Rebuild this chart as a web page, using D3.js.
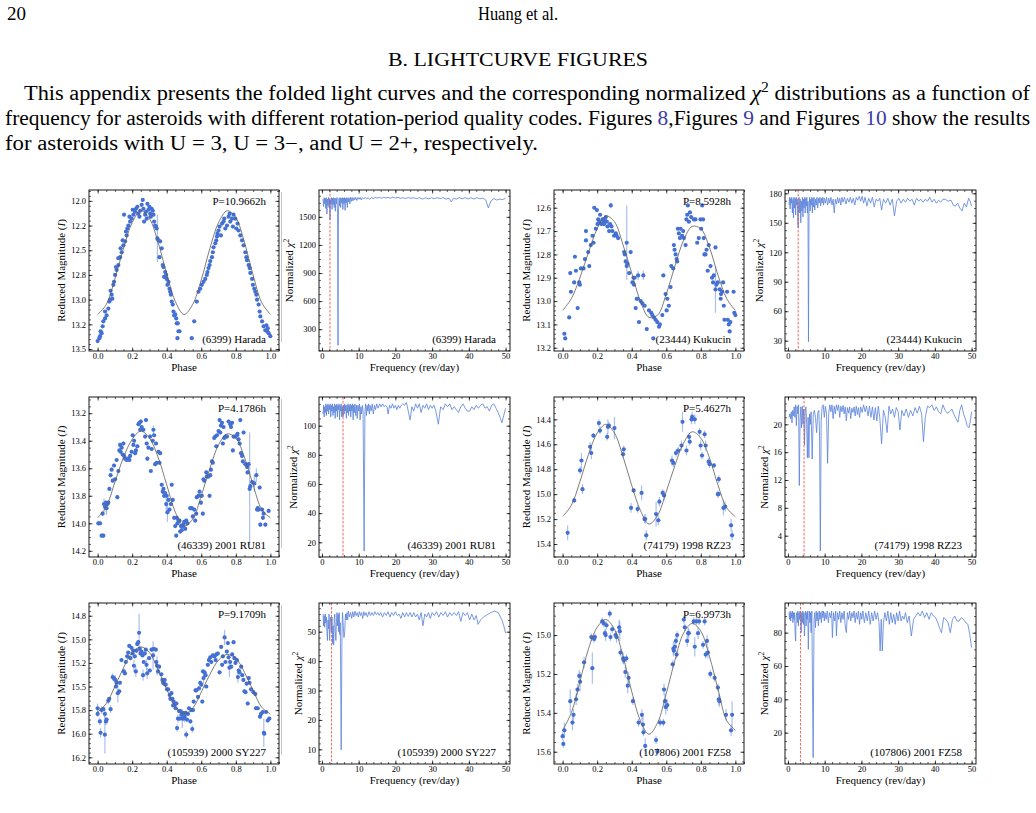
<!DOCTYPE html>
<html>
<head>
<meta charset="utf-8">
<script src="https://cdn.jsdelivr.net/npm/d3@7"></script>
<style>
body { margin: 0; background: #fff; }
text { font-family: "Liberation Serif", "DejaVu Serif", serif; }
</style>
</head>
<body>
<div id="chart"></div>
<script>
// ---- shared axes ----
const phaseTicks = [0, 0.2, 0.4, 0.6, 0.8, 1.0];
const freqTicks = [0, 10, 20, 30, 40, 50];
const fitPhase = [0, 0.05, 0.1, 0.15, 0.2, 0.25, 0.3, 0.35, 0.4, 0.45, 0.5, 0.55, 0.6, 0.65, 0.7, 0.75, 0.8, 0.85, 0.9, 0.95, 1.0];

// ---- (6399) Harada ----
const haradaYTicks = [[12.0,"12.0"],[12.25,"12.2"],[12.5,"12.5"],[12.75,"12.8"],[13.0,"13.0"],[13.25,"13.2"],[13.5,"13.5"]];
const haradaFit = [13.15,13.05,12.79,12.48,12.22,12.10,12.18,12.42,12.74,13.02,13.15,13.05,12.80,12.48,12.22,12.10,12.17,12.42,12.75,13.03,13.15];
const haradaPts = [
[0.000,13.42],[0.010,13.39],[0.014,13.37],[0.023,13.34],[0.017,13.32],[0.033,13.22],[0.043,13.19],[0.029,13.27],[0.052,13.16],[0.062,13.09],[0.043,13.12],[0.072,13.00],[0.068,13.02],[0.081,12.95],[0.091,12.85],[0.075,12.91],[0.095,12.82],[0.085,12.99],[0.101,12.75],[0.110,12.70],[0.120,12.65],[0.106,12.67],[0.130,12.57],[0.139,12.52],[0.133,12.48],[0.120,12.58],[0.149,12.45],[0.159,12.41],[0.145,12.40],[0.168,12.35],[0.164,12.31],[0.172,12.28],[0.178,12.25],[0.153,12.14],[0.188,12.21],[0.197,12.18],[0.184,12.16],[0.207,12.14],[0.217,12.11],[0.203,12.09],[0.222,12.08],[0.230,12.06],[0.236,12.13],[0.246,12.10],[0.255,12.04],[0.242,12.16],[0.261,11.99],[0.265,12.08],[0.275,12.14],[0.269,12.21],[0.280,12.11],[0.284,12.18],[0.294,12.09],[0.288,12.03],[0.300,12.06],[0.304,12.13],[0.308,12.16],[0.313,12.08],[0.319,12.10],[0.323,12.14],[0.327,12.21],[0.333,12.25],[0.338,12.26],[0.342,12.28],[0.346,12.38,0.24],[0.352,12.40],[0.362,12.41],[0.371,12.48],[0.358,12.57],[0.377,12.65],[0.381,12.67],[0.391,12.72],[0.397,12.75],[0.400,12.79],[0.385,12.77],[0.410,12.82],[0.404,12.85],[0.416,12.89],[0.424,12.95],[0.420,12.92],[0.429,13.02],[0.435,13.05],[0.439,13.12],[0.443,13.16],[0.449,13.15],[0.455,13.19],[0.458,13.24],[0.468,13.32],[0.464,13.24],[0.474,13.32],[0.462,13.39],[0.559,13.22],[0.545,13.39],[0.574,13.02],[0.584,12.92],[0.594,12.89],[0.603,12.85],[0.613,12.82],[0.623,12.79],[0.632,12.75],[0.636,12.72],[0.642,12.68],[0.648,12.65],[0.652,12.61],[0.662,12.57],[0.667,12.52],[0.671,12.47],[0.681,12.43],[0.687,12.40],[0.691,12.36],[0.694,12.33],[0.700,12.30],[0.706,12.26],[0.714,12.35],[0.720,12.23],[0.729,12.21],[0.733,12.18],[0.739,12.28],[0.749,12.25],[0.758,12.16],[0.764,12.13],[0.768,12.21],[0.778,12.18],[0.783,12.26],[0.787,12.14],[0.797,12.18],[0.803,12.28],[0.810,12.23],[0.816,12.30],[0.826,12.35],[0.836,12.40],[0.845,12.45],[0.855,12.52],[0.861,12.57],[0.865,12.60],[0.874,12.65],[0.880,12.68],[0.884,12.73],[0.894,12.79],[0.899,12.85],[0.907,12.89],[0.913,12.92],[0.919,12.95],[0.923,13.00],[0.932,13.05],[0.938,13.12],[0.942,13.17],[0.952,13.22],[0.961,13.27],[0.971,13.31],[0.981,13.32],[0.990,13.34],[1.000,13.37],[0.985,13.29],[0.977,13.26]
];
const haradaChiTicks = [[300,"300"],[600,"600"],[900,"900"],[1200,"1200"],[1500,"1500"]];
const haradaChi2 = [
[0.3,1690],[0.45,1610],[0.6,1705],[0.75,1640],[0.9,1700],[1.05,1590],[1.2,1705],[1.35,1530],[1.5,1690],[1.65,1620],[1.8,1708],[1.95,1600],[2.1,1690],[2.19,1470],[2.3,1680],[2.45,1640],[2.6,1706],[2.75,1580],[2.9,1700],[3.05,1630],[3.2,1705],[3.35,1600],[3.5,1700],[3.65,1560],[3.8,1700],[3.95,1640],[4.1,1706],[4.25,1540],[4.38,128],[4.5,1560],[4.65,1700],[4.8,1620],[4.95,1706],[5.1,1600],[5.25,1700],[5.4,1650],[5.55,1706],[5.7,1580],[5.85,1700],[6.0,1640],[6.15,1706],[6.3,1570],[6.45,1700],[6.6,1650],[6.75,1706],[6.9,1600],[7.05,1702],[7.2,1660],[7.4,1706],[7.6,1640],[7.8,1706],[8.0,1665],[8.2,1708],[8.45,1670],[8.7,1706],[8.95,1680],[9.2,1708],[9.5,1675],[9.8,1708],[10.1,1688],[10.4,1708],[10.7,1680],[11.0,1706],[11.4,1690],[11.8,1708],[12.2,1692],[12.6,1706],[13.0,1686],[13.5,1706],[14.0,1695],[14.5,1708],[15.0,1700],[15.6,1708],[16.2,1700],[16.8,1708],[17.4,1702],[18.0,1708],[18.6,1700],[19.3,1710],[20.0,1702],[20.7,1708],[21.4,1698],[22.1,1705],[22.8,1696],[23.5,1706],[24.2,1698],[25.0,1704],[25.8,1694],[26.6,1705],[27.4,1690],[28.2,1704],[29.0,1692],[29.8,1704],[30.6,1694],[31.4,1705],[32.2,1696],[33.0,1704],[33.8,1690],[34.6,1700],[35.2,1660],[35.8,1698],[36.6,1690],[37.4,1704],[38.2,1694],[39.0,1705],[39.8,1692],[40.6,1704],[41.4,1690],[42.2,1705],[43.0,1694],[43.8,1700],[44.6,1680],[45.3,1595],[46.0,1670],[46.8,1695],[47.6,1680],[48.4,1690],[49.2,1685],[50.0,1698]
];

// ---- (23444) Kukucin ----
const kukucinYTicks = [[12.6,"12.6"],[12.7,"12.7"],[12.8,"12.8"],[12.9,"12.9"],[13.0,"13.0"],[13.1,"13.1"],[13.2,"13.2"]];
const kukucinFit = [13.04,12.99,12.90,12.79,12.69,12.635,12.66,12.76,12.88,13.00,13.07,13.06,12.97,12.85,12.74,12.68,12.69,12.77,12.89,12.99,13.04];
const kukucinPts = [
[0.010,13.14],[0.015,13.16],[0.038,13.07],[0.044,12.88],[0.048,12.96],[0.067,12.92],[0.071,12.81],[0.077,12.87],[0.087,13.03],[0.096,12.92],[0.100,12.93],[0.106,12.86],[0.121,12.86],[0.129,12.82],[0.135,12.74],[0.135,12.70],[0.148,12.79],[0.154,12.85],[0.163,12.76],[0.173,12.72],[0.179,12.75],[0.183,12.60],[0.192,12.69],[0.198,12.61],[0.202,12.67],[0.206,12.65],[0.212,12.66],[0.217,12.63],[0.225,12.67],[0.231,12.65],[0.237,12.66],[0.240,12.67],[0.244,12.65],[0.250,12.64],[0.256,12.66],[0.260,12.68],[0.269,12.70],[0.275,12.67],[0.279,12.59,0.012],[0.283,12.68],[0.288,12.70],[0.298,12.72],[0.308,12.71],[0.313,12.72],[0.321,12.73],[0.356,12.79],[0.360,12.80],[0.365,12.83],[0.371,12.75,0.16],[0.371,12.85],[0.375,12.84],[0.385,12.88],[0.394,12.79],[0.404,12.92],[0.410,12.90],[0.413,12.93],[0.417,12.90],[0.423,13.03],[0.429,12.99],[0.433,12.99],[0.437,12.89,0.02],[0.442,13.09],[0.452,13.00],[0.462,13.01],[0.467,12.89,0.02],[0.475,13.02],[0.487,13.12],[0.500,13.04],[0.513,13.05],[0.519,13.06],[0.525,13.16],[0.529,13.07],[0.538,13.08],[0.548,13.09],[0.558,13.11],[0.563,13.10],[0.577,13.06],[0.583,12.89],[0.596,12.97],[0.602,13.04],[0.606,12.99],[0.615,13.02],[0.625,12.94],[0.629,12.85],[0.640,12.86],[0.644,12.76],[0.648,12.78],[0.654,12.80],[0.660,12.82],[0.663,12.83],[0.667,12.69],[0.673,12.71],[0.679,12.73],[0.683,12.69],[0.692,12.72],[0.698,12.70],[0.702,12.73],[0.712,12.76],[0.717,12.65],[0.721,12.63],[0.725,12.59],[0.731,12.66],[0.737,12.62],[0.744,12.64],[0.760,12.65],[0.769,12.65],[0.779,12.75],[0.788,12.73],[0.798,12.65],[0.802,12.69],[0.808,12.59],[0.813,12.65],[0.817,12.73],[0.821,12.80],[0.827,12.80],[0.833,12.78],[0.840,12.87],[0.846,12.76],[0.856,12.85],[0.865,12.90],[0.871,12.92],[0.875,12.89],[0.885,12.77],[0.885,12.95,0.1],[0.890,12.93],[0.898,12.92],[0.910,12.95],[0.915,12.99],[0.917,12.97],[0.923,12.96],[0.929,12.92],[0.933,13.02],[0.937,13.08],[0.952,12.96],[0.956,13.08],[0.962,13.10],[0.967,13.13],[0.971,13.09],[0.990,12.96],[0.994,13.05],[1.000,13.06]
];
const kukucinChiTicks = [[30,"30"],[60,"60"],[90,"90"],[120,"120"],[150,"150"],[180,"180"]];
const kukucinChi2 = [
[0.3,168],[0.45,176],[0.6,164],[0.75,175],[0.9,170],[1.05,176],[1.2,160],[1.35,174],[1.5,155],[1.65,176],[1.8,165],[1.95,175],[2.1,158],[2.25,176],[2.4,168],[2.55,174],[2.7,150],[2.79,145],[2.9,170],[3.05,176],[3.2,160],[3.35,174],[3.5,150],[3.65,172],[3.8,162],[3.95,176],[4.1,156],[4.25,174],[4.4,165],[4.55,176],[4.7,160],[4.85,175],[5.0,167],[5.15,176],[5.3,160],[5.45,172],[5.59,29],[5.75,165],[5.9,176],[6.05,162],[6.2,174],[6.35,168],[6.5,176],[6.65,160],[6.8,175],[6.95,166],[7.1,176],[7.3,163],[7.5,174],[7.7,168],[7.9,176],[8.1,165],[8.3,175],[8.5,170],[8.7,176],[8.9,167],[9.1,175],[9.3,170],[9.5,176],[9.7,168],[9.9,175],[10.2,170],[10.5,176],[10.8,168],[11.1,175],[11.4,170],[11.7,176],[12.0,168],[12.3,174],[12.6,160],[12.9,174],[13.2,169],[13.5,176],[13.8,170],[14.1,175],[14.4,168],[14.7,176],[15.0,171],[15.4,176],[15.8,169],[16.2,175],[16.6,171],[17.0,176],[17.4,170],[17.8,175],[18.2,168],[18.6,176],[19.0,173],[19.4,177],[19.8,172],[20.2,177],[20.6,170],[21.0,176],[21.5,167],[22.0,175],[22.5,170],[23.0,176],[23.5,166],[24.0,174],[24.5,172],[25.0,175],[25.5,163],[26.0,174],[26.6,170],[27.2,175],[27.8,168],[28.4,174],[29.0,157],[29.6,172],[30.2,175],[30.8,170],[31.4,174],[32.0,171],[32.6,175],[33.2,172],[33.8,174],[34.4,168],[35.0,175],[35.6,172],[36.2,174],[36.8,171],[37.4,174],[38.0,172],[38.6,176],[39.2,171],[39.8,174],[40.4,170],[41.0,173],[41.6,171],[42.2,174],[42.8,174],[43.6,172],[44.4,173],[45.0,168],[45.6,167],[46.2,170],[46.8,165],[47.4,162],[48.0,170],[48.6,166],[49.2,175],[49.6,172],[50.0,167]
];

// ---- (46339) 2001 RU81 ----
const ru81YTicks = [[13.2,"13.2"],[13.4,"13.4"],[13.6,"13.6"],[13.8,"13.8"],[14.0,"14.0"],[14.2,"14.2"]];
const ru81Fit = [13.96,13.88,13.70,13.52,13.39,13.33,13.38,13.52,13.72,13.92,14.02,13.97,13.80,13.60,13.43,13.35,13.38,13.52,13.72,13.90,13.96];
const ru81Pts = [
[0.004,14.00],[0.014,14.00],[0.023,14.09],[0.033,14.09],[0.029,13.93],[0.037,13.86,0.04],[0.043,13.88,0.04],[0.048,13.85],[0.052,13.89,0.05],[0.056,13.86],[0.062,13.85],[0.068,13.75],[0.075,13.65],[0.081,13.61],[0.087,13.69],[0.095,13.58],[0.101,13.68],[0.110,13.54],[0.114,13.81],[0.120,13.62],[0.126,13.47],[0.130,13.43],[0.133,13.48],[0.139,13.45],[0.145,13.50],[0.149,13.42],[0.153,13.51],[0.159,13.53],[0.164,13.53],[0.168,13.54],[0.178,13.53],[0.184,13.54],[0.188,13.51],[0.197,13.48],[0.203,13.36],[0.207,13.43],[0.211,13.40],[0.217,13.49],[0.222,13.47],[0.230,13.44],[0.236,13.28],[0.242,13.27],[0.246,13.32],[0.250,13.26],[0.255,13.30],[0.265,13.32],[0.275,13.37],[0.280,13.25],[0.284,13.42],[0.288,13.53],[0.294,13.45],[0.304,13.37],[0.308,13.62],[0.313,13.46],[0.319,13.40],[0.323,13.32,0.03],[0.327,13.36],[0.333,13.57],[0.338,13.42],[0.342,13.56],[0.352,13.48],[0.358,13.56],[0.362,13.49],[0.371,13.72],[0.377,13.77],[0.381,13.75],[0.385,13.80],[0.391,13.78],[0.397,13.86,0.05],[0.400,13.80],[0.404,13.92,0.07],[0.410,13.83],[0.416,13.90],[0.424,13.86],[0.429,13.72],[0.435,13.83],[0.443,13.96],[0.449,14.02],[0.455,14.09],[0.458,13.96],[0.462,14.00],[0.468,13.98],[0.474,13.98],[0.478,14.06],[0.482,14.02],[0.487,14.05],[0.493,14.02],[0.497,14.01],[0.501,13.99],[0.507,14.04],[0.513,13.98],[0.520,14.00],[0.536,13.89],[0.545,13.89],[0.551,13.95],[0.559,13.90],[0.565,13.98],[0.571,13.93],[0.574,13.81],[0.584,13.80],[0.590,13.77],[0.598,13.85],[0.603,13.80],[0.609,13.93],[0.613,13.68],[0.617,13.69],[0.629,13.63],[0.632,13.66],[0.636,13.66],[0.642,13.66],[0.648,13.80],[0.652,13.65],[0.656,13.61],[0.662,13.55],[0.667,13.56],[0.675,13.38],[0.681,13.37],[0.687,13.44],[0.691,13.36],[0.700,13.33],[0.706,13.25],[0.710,13.34],[0.714,13.29],[0.720,13.27],[0.725,13.42],[0.729,13.30],[0.733,13.38],[0.739,13.37],[0.749,13.37],[0.758,13.26],[0.768,13.28],[0.772,13.30],[0.778,13.27],[0.783,13.47],[0.787,13.37],[0.797,13.37],[0.807,13.36],[0.810,13.35],[0.816,13.39],[0.822,13.42],[0.826,13.25],[0.830,13.49],[0.836,13.51],[0.841,13.55],[0.845,13.34],[0.855,13.57],[0.865,13.59],[0.868,13.63],[0.874,13.57],[0.880,13.75,0.41],[0.884,13.73],[0.894,13.70],[0.907,13.71,0.06],[0.919,13.65,0.05],[0.923,13.90],[0.927,13.89],[0.932,13.90],[0.938,13.74],[0.942,14.01],[0.952,13.90],[0.957,13.96],[0.961,13.93],[0.971,14.01],[0.990,13.91]
];
const ru81ChiTicks = [[20,"20"],[40,"40"],[60,"60"],[80,"80"],[100,"100"]];
const ru81Chi2 = [
[0.3,108],[0.45,114],[0.6,106],[0.75,113],[0.9,109],[1.05,115],[1.2,107],[1.35,114],[1.5,110],[1.65,115],[1.8,108],[1.95,114],[2.1,111],[2.25,115],[2.4,106],[2.55,114],[2.7,110],[2.85,115],[3.0,107],[3.15,113],[3.3,109],[3.45,115],[3.6,105],[3.75,114],[3.9,110],[4.05,115],[4.2,106],[4.35,114],[4.5,111],[4.65,115],[4.8,104],[4.95,114],[5.1,110],[5.25,115],[5.4,106],[5.55,113],[5.74,106],[5.9,114],[6.05,108],[6.2,115],[6.35,110],[6.5,114],[6.65,105],[6.8,114],[6.95,109],[7.1,115],[7.25,107],[7.4,114],[7.55,110],[7.7,115],[7.85,106],[8.0,114],[8.15,110],[8.3,115],[8.5,104],[8.65,114],[8.8,109],[9.0,115],[9.2,107],[9.4,114],[9.6,105],[9.8,114],[10.0,110],[10.2,115],[10.4,104],[10.6,113],[10.8,108],[11.0,114],[11.2,110],[11.49,14],[11.7,110],[11.9,115],[12.1,107],[12.3,114],[12.5,110],[12.7,115],[12.9,108],[13.1,114],[13.4,110],[13.7,115],[14.0,108],[14.3,114],[14.6,111],[14.9,115],[15.3,112],[15.7,115],[16.1,113],[16.5,115],[16.9,113],[17.3,114],[17.7,113],[18.0,108],[18.4,114],[18.8,112],[19.2,115],[19.6,112],[20.0,114],[20.4,111],[20.8,114],[21.2,112],[21.6,114],[22.0,115],[22.5,114],[23.0,116],[23.5,110],[24.0,104],[24.5,113],[25.0,110],[25.5,115],[26.0,112],[26.5,115],[27.0,109],[27.5,114],[28.0,112],[28.5,115],[29.0,111],[29.5,114],[30.0,112],[30.5,114],[31.0,110],[31.7,101],[32.3,113],[33.0,111],[33.6,115],[34.2,113],[34.8,115],[35.4,111],[36.0,113],[36.6,111],[37.2,109],[37.8,113],[38.4,115],[39.0,112],[39.6,110],[40.2,110],[40.8,113],[41.4,111],[42.0,114],[42.6,112],[43.2,114],[43.8,115],[44.4,112],[45.0,113],[45.6,110],[46.2,114],[46.8,115],[47.4,112],[48.0,109],[48.6,105],[49.0,102],[49.5,107],[50.0,112]
];

// ---- (74179) 1998 RZ23 ----
const rz23YTicks = [[14.4,"14.4"],[14.6,"14.6"],[14.8,"14.8"],[15.0,"15.0"],[15.2,"15.2"],[15.4,"15.4"]];
const rz23Fit = [15.18,15.09,14.90,14.68,14.51,14.44,14.51,14.70,14.93,15.13,15.24,15.17,14.98,14.77,14.59,14.50,14.55,14.71,14.93,15.11,15.18];
const rz23Pts = [
[0.029,15.31,0.06],[0.067,15.05,0.02],[0.101,14.81,0.03],[0.109,14.73,0.06],[0.115,14.96,0.04],[0.159,14.62,0.04],[0.166,14.67,0.05],[0.178,14.53,0.02],[0.210,14.43,0.03],[0.216,14.49,0.03],[0.258,14.54,0.03],[0.262,14.46,0.06],[0.268,14.45,0.03],[0.300,14.47,0.09],[0.350,14.68,0.03],[0.354,14.64,0.03],[0.396,15.11,0.04],[0.411,14.97,0.02],[0.434,15.12,0.03],[0.457,14.99,0.06],[0.474,15.20,0.03],[0.478,15.20,0.04],[0.484,15.33,0.04],[0.541,15.16,0.1],[0.554,15.21,0.04],[0.560,15.06,0.04],[0.579,14.99,0.03],[0.587,15.01,0.04],[0.633,14.73,0.04],[0.641,14.75,0.03],[0.656,14.67,0.03],[0.669,14.65,0.03],[0.688,14.61,0.04],[0.694,14.42,0.08],[0.717,14.65,0.04],[0.732,14.54,0.03],[0.736,14.58,0.03],[0.746,14.40,0.04],[0.750,14.38,0.04],[0.765,14.40,0.04],[0.793,14.50,0.03],[0.799,14.61,0.04],[0.807,14.69,0.03],[0.822,14.52,0.03],[0.828,14.61,0.04],[0.845,14.74,0.03],[0.851,14.76,0.03],[0.876,14.77,0.02],[0.899,15.00,0.03],[0.902,15.00,0.02],[0.904,14.88,0.03],[0.931,15.11,0.06],[0.941,15.10,0.04],[0.975,15.25,0.05],[0.981,15.33,0.04]
];
const rz23ChiTicks = [[4,"4"],[8,"8"],[12,"12"],[16,"16"],[20,"20"]];
const rz23Chi2 = [
[0.3,21.0],[0.5,21.5],[0.7,20.8],[0.9,21.8],[1.1,20.2],[1.3,22.0],[1.5,21.2],[1.7,22.5],[1.9,21.0],[2.1,22.8],[2.3,19.8],[2.5,22.6],[2.7,21.5],[2.9,22.8],[3.1,11.2],[3.3,20.5],[3.5,22.5],[3.7,19.5],[3.9,22.6],[4.1,20.0],[4.3,22.2],[4.5,17.0],[4.7,21.8],[4.9,22.5],[5.1,20.0],[5.3,15.2],[5.5,21.0],[5.7,15.2],[5.9,21.5],[6.1,20.0],[6.3,21.8],[6.6,15.0],[6.9,21.5],[7.2,22.0],[7.5,21.0],[7.8,18.8],[8.1,21.6],[8.4,22.0],[8.6,19.0],[8.82,1.8],[9.05,20.5],[9.3,22.5],[9.6,22.8],[9.9,21.0],[10.2,22.6],[10.5,21.5],[10.8,14.4],[11.1,21.5],[11.4,22.8],[11.7,21.8],[12.0,22.8],[12.3,20.8],[12.6,22.6],[12.9,21.5],[13.2,22.8],[13.5,22.0],[13.8,22.8],[14.1,21.0],[14.4,22.6],[14.7,21.8],[15.0,22.7],[15.3,21.5],[15.6,22.5],[15.9,20.5],[16.2,22.4],[16.5,21.6],[16.8,22.5],[17.1,20.8],[17.4,22.3],[17.7,21.7],[18.0,22.5],[18.3,21.2],[18.6,22.6],[18.9,21.4],[19.2,22.4],[19.5,21.0],[19.8,22.5],[20.2,21.7],[20.6,22.8],[21.0,21.8],[21.4,22.6],[21.8,21.2],[22.2,22.6],[22.6,21.0],[23.0,22.5],[23.4,20.6],[23.8,22.4],[24.2,20.5],[24.6,22.6],[25.0,21.0],[25.5,17.2],[26.0,22.0],[26.5,21.0],[27.0,18.8],[27.5,22.6],[28.0,21.5],[28.5,22.2],[29.0,21.0],[29.5,22.4],[30.0,21.8],[30.5,19.2],[31.0,22.0],[31.6,21.2],[32.2,22.2],[32.8,21.0],[33.4,22.0],[34.0,21.2],[34.6,22.4],[35.2,21.6],[35.8,22.6],[36.4,21.5],[36.9,17.5],[37.4,21.0],[38.0,22.6],[38.6,22.4],[39.2,22.8],[39.8,22.0],[40.4,22.5],[41.0,21.8],[41.6,21.5],[42.2,22.8],[42.8,22.0],[43.4,21.6],[44.0,21.8],[44.6,22.2],[45.2,21.4],[45.8,20.8],[46.3,20.3],[46.8,22.0],[47.3,22.8],[47.8,21.5],[48.3,20.8],[48.8,19.8],[49.3,19.5],[49.7,20.6],[50.0,21.8]
];

// ---- (105939) 2000 SY227 ----
const sy227YTicks = [[14.75,"14.8"],[15.0,"15.0"],[15.25,"15.2"],[15.5,"15.5"],[15.75,"15.8"],[16.0,"16.0"],[16.25,"16.2"]];
const sy227Fit = [15.77,15.68,15.50,15.30,15.14,15.08,15.14,15.32,15.53,15.71,15.79,15.73,15.56,15.37,15.22,15.16,15.20,15.35,15.54,15.72,15.79];
const sy227Pts = [
[0.000,15.73,0.05],[0.000,15.79,0.03],[0.013,15.87,0.04],[0.017,15.99,0.05],[0.023,15.75,0.04],[0.033,15.74],[0.042,15.79,0.04],[0.042,16.01,0.2],[0.048,15.87,0.04],[0.052,15.85],[0.062,15.65,0.04],[0.067,15.63],[0.075,15.74,0.04],[0.087,15.40,0.04],[0.094,15.41],[0.102,15.43,0.05],[0.106,15.50],[0.110,15.46],[0.117,15.57,0.1],[0.125,15.55],[0.129,15.46],[0.138,15.22],[0.152,15.34,0.04],[0.158,15.36],[0.163,15.24],[0.171,15.18],[0.177,15.14],[0.183,15.07],[0.190,15.20],[0.196,15.09],[0.202,15.15],[0.206,15.12],[0.210,15.28,0.06],[0.215,15.18],[0.221,15.34,0.06],[0.225,15.12],[0.229,15.05],[0.235,15.03],[0.240,14.93,0.2],[0.244,15.10],[0.248,15.15],[0.254,15.13],[0.260,15.17],[0.263,15.38,0.06],[0.267,15.24],[0.273,15.15],[0.279,15.11],[0.283,15.27,0.06],[0.287,15.36,0.06],[0.298,15.20],[0.302,15.33],[0.312,15.11],[0.321,15.17,0.15],[0.325,15.10],[0.337,15.11],[0.340,15.24],[0.344,15.28,0.1],[0.350,15.34],[0.356,15.29],[0.369,15.37],[0.375,15.43],[0.379,15.46],[0.385,15.47],[0.388,15.43],[0.394,15.48],[0.402,15.53],[0.408,15.53],[0.417,15.59],[0.421,15.63],[0.427,15.57],[0.433,15.63],[0.437,15.70],[0.440,15.66],[0.446,15.69],[0.452,15.73],[0.456,15.68],[0.460,15.94,0.04],[0.465,15.84,0.04],[0.471,15.76],[0.475,15.84],[0.479,15.76],[0.485,15.80],[0.490,15.84,0.1],[0.494,15.78],[0.498,15.84],[0.504,15.82,0.06],[0.510,15.78],[0.513,16.01,0.04],[0.517,15.85],[0.523,15.79],[0.529,15.73],[0.537,15.87],[0.542,15.75],[0.548,15.95,0.04],[0.552,15.75],[0.556,15.66],[0.567,15.54],[0.571,15.54],[0.581,15.61],[0.587,15.52],[0.594,15.46],[0.600,15.48],[0.606,15.66],[0.610,15.34],[0.613,15.41,0.06],[0.619,15.35],[0.625,15.38],[0.629,15.50],[0.638,15.27],[0.644,15.22],[0.652,15.19],[0.658,15.24],[0.667,15.17],[0.677,15.18],[0.683,15.22],[0.687,15.16],[0.696,15.15],[0.706,15.35],[0.715,15.08],[0.721,15.27],[0.725,15.18],[0.735,14.98,0.08],[0.740,15.24],[0.748,15.13],[0.754,15.04],[0.758,15.19],[0.763,15.30,0.1],[0.767,15.24],[0.773,15.29],[0.779,15.16],[0.787,15.03],[0.792,15.20],[0.798,15.25],[0.806,15.22],[0.812,15.40,0.06],[0.817,15.33],[0.821,15.35],[0.831,15.29],[0.837,15.38],[0.844,15.43],[0.850,15.55],[0.856,15.56],[0.863,15.47],[0.869,15.68],[0.875,15.41],[0.879,15.46],[0.888,15.53],[0.902,15.56],[0.913,15.58],[0.917,15.73],[0.927,15.73],[0.940,15.82],[0.946,15.79],[0.956,15.77],[0.962,15.99,0.15],[0.965,16.00],[0.975,15.77],[0.985,15.86],[0.994,15.84]
];
const sy227ChiTicks = [[10,"10"],[20,"20"],[30,"30"],[40,"40"],[50,"50"]];
const sy227Chi2 = [
[0.3,56],[0.45,52],[0.6,55.5],[0.75,51.5],[0.9,56],[1.05,53],[1.2,55],[1.35,50],[1.5,47],[1.65,54],[1.8,51],[1.95,56],[2.1,47],[2.25,53],[2.4,55],[2.55,50],[2.62,52],[2.75,55],[2.9,46],[3.05,52],[3.2,45.5],[3.35,54],[3.5,56],[3.65,50],[3.8,47],[3.95,53],[4.1,56.5],[4.25,52],[4.4,56],[4.55,50],[4.7,56.5],[4.85,49],[5.0,53],[5.24,9.8],[5.45,48],[5.6,56.5],[5.8,52],[6.0,48],[6.2,50],[6.4,56],[6.6,54],[6.8,56.5],[7.0,54],[7.2,57],[7.5,55],[7.8,56.5],[8.1,54.5],[8.4,56.8],[8.7,55],[9.0,57],[9.3,55.5],[9.6,56.5],[9.9,55],[10.2,56.8],[10.5,55.5],[10.8,56.5],[11.1,54.5],[11.4,56.8],[11.7,55.5],[12.0,56.5],[12.4,55],[12.8,56.8],[13.2,55.5],[13.6,56.5],[14.0,55.5],[14.4,56.8],[14.8,55.8],[15.2,56.5],[15.6,55.5],[16.0,56.5],[16.5,55],[17.0,56.5],[17.5,55.5],[18.0,56.8],[18.5,55],[19.0,56.5],[19.5,55.5],[20.0,56.8],[20.5,55.5],[21.0,56],[21.5,54.5],[22.0,56.5],[22.5,55],[23.0,56.5],[23.5,55.2],[24.0,56.5],[24.5,55],[25.0,56.5],[25.5,55],[26.0,56],[26.5,54],[27.0,56.5],[27.5,52],[28.0,56],[28.5,55],[29.0,56.5],[29.5,54.5],[30.0,56.5],[30.6,55.5],[31.2,56.8],[31.8,55],[32.4,56.5],[33.0,55.5],[33.6,56.8],[34.2,55],[34.8,56.5],[35.4,55.5],[36.0,56.5],[36.6,55.5],[37.2,56.8],[37.8,53.5],[38.4,56.5],[39.0,55.5],[39.6,56.5],[40.2,54],[40.8,56],[41.4,54],[42.0,55.5],[42.5,52.5],[43.2,54],[44.0,55],[45.0,55.8],[46.0,56.5],[47.0,57],[48.0,56.5],[49.0,54],[49.5,52],[50.0,49.5]
];

// ---- (107806) 2001 FZ58 ----
const fz58YTicks = [[15.0,"15.0"],[15.2,"15.2"],[15.4,"15.4"],[15.6,"15.6"]];
const fz58Fit = [15.49,15.40,15.24,15.07,14.96,14.92,14.97,15.11,15.29,15.44,15.51,15.45,15.30,15.13,14.99,14.94,14.98,15.11,15.28,15.44,15.49];
const fz58Pts = [
[0.000,15.52,0.02],[0.004,15.56,0.02],[0.010,15.49,0.04],[0.044,15.34,0.06],[0.057,15.45,0.04],[0.063,15.41,0.03],[0.078,15.33,0.03],[0.086,15.28,0.03],[0.096,15.21,0.03],[0.101,15.24,0.05],[0.124,15.14,0.03],[0.166,15.01,0.02],[0.172,15.17,0.08],[0.182,15.02,0.02],[0.187,15.01,0.02],[0.229,14.93,0.02],[0.239,14.94,0.02],[0.245,14.99,0.02],[0.249,15.00,0.03],[0.254,14.95,0.02],[0.273,14.89,0.02],[0.277,15.01,0.02],[0.287,14.97,0.02],[0.306,15.00,0.02],[0.312,15.01,0.03],[0.327,14.96,0.04],[0.331,14.98,0.05],[0.335,15.09,0.02],[0.350,15.12,0.03],[0.354,15.13,0.02],[0.363,15.19,0.03],[0.369,15.12,0.02],[0.377,15.26,0.04],[0.382,15.22,0.03],[0.407,15.34,0.02],[0.440,15.45,0.02],[0.459,15.41,0.03],[0.465,15.46,0.04],[0.468,15.50,0.02],[0.478,15.57,0.04],[0.541,15.54,0.02],[0.549,15.60,0.02],[0.564,15.45,0.02],[0.583,15.45,0.02],[0.587,15.28,0.03],[0.593,15.34,0.04],[0.597,15.37,0.04],[0.606,15.36,0.03],[0.637,15.15,0.02],[0.641,15.07,0.04],[0.644,15.08,0.02],[0.650,15.06,0.02],[0.656,15.03,0.02],[0.660,15.10,0.02],[0.663,15.00,0.02],[0.702,14.92,0.02],[0.707,14.96,0.02],[0.721,15.03,0.03],[0.727,14.99,0.03],[0.730,14.99,0.02],[0.759,14.93,0.02],[0.765,15.06,0.05],[0.774,14.93,0.02],[0.784,14.99,0.03],[0.790,14.93,0.02],[0.813,15.05,0.02],[0.822,14.93,0.02],[0.828,15.10,0.02],[0.836,15.03,0.03],[0.841,15.09,0.03],[0.855,15.20,0.02],[0.880,15.22,0.02],[0.899,15.27,0.02],[0.904,15.33,0.03],[0.908,15.34,0.03],[0.946,15.41,0.03],[0.975,15.49,0.03],[0.981,15.41,0.07]
];
const fz58ChiTicks = [[20,"20"],[40,"40"],[60,"60"],[80,"80"]];
const fz58Chi2 = [
[0.3,92],[0.45,88],[0.6,93],[0.75,87],[0.9,92],[1.05,89],[1.2,93],[1.35,86],[1.5,92],[1.65,88],[1.8,92],[1.95,80],[2.1,75],[2.25,90],[2.4,92],[2.55,86],[2.7,93],[2.85,84],[3.0,92],[3.15,88],[3.3,93],[3.43,90],[3.6,80],[3.75,92],[3.9,86],[4.05,93],[4.2,85],[4.35,92],[4.5,78],[4.65,90],[4.8,93],[4.95,84],[5.1,92],[5.25,88],[5.4,93],[5.55,70],[5.7,89],[5.85,93],[6.0,86],[6.15,92],[6.3,80],[6.5,93],[6.86,5],[7.1,88],[7.3,92],[7.5,83],[7.7,93],[7.9,87],[8.1,92],[8.3,84],[8.5,93],[8.7,88],[8.9,92],[9.1,86],[9.3,93],[9.5,89],[9.7,93],[9.9,87],[10.1,92],[10.4,88],[10.7,93],[11.0,86],[11.3,92],[11.6,89],[11.9,93],[12.1,77],[12.4,92],[12.7,87],[13.0,93],[13.2,78],[13.5,92],[13.8,88],[14.1,93],[14.4,86],[14.7,92],[15.0,88],[15.3,93],[15.6,84],[15.9,80],[16.2,92],[16.5,88],[16.8,93],[17.1,87],[17.4,92],[17.7,89],[18.0,93],[18.3,86],[18.6,92],[18.9,88],[19.2,93],[19.5,85],[19.8,92],[20.1,88],[20.4,93],[20.8,86],[21.2,92],[21.6,87],[22.0,93],[22.4,85],[22.8,92],[23.2,87],[23.6,93],[24.0,88],[24.4,92],[24.8,86],[25.1,69],[25.4,88],[25.7,69],[26.0,86],[26.4,92],[26.8,87],[27.2,93],[27.6,85],[28.0,92],[28.4,86],[28.8,91],[29.2,85],[29.6,92],[30.0,87],[30.4,93],[30.8,87],[31.2,90],[31.6,88],[32.0,92],[32.5,86],[33.0,90],[33.6,78],[34.2,88],[34.8,90],[35.4,92],[36.0,90],[36.6,93],[37.2,89],[37.8,92],[38.4,88],[39.0,92],[39.6,90],[40.2,89],[40.8,86],[41.4,82],[41.8,80],[42.4,89],[43.0,88],[43.6,86],[44.2,80],[44.8,88],[45.4,90],[46.0,87],[46.6,87],[47.2,89],[47.8,88],[48.4,86],[49.0,85],[49.5,79],[50.0,71]
];

// ---- layout ----
const W = 1036, H = 813;
const rowTop = [190, 397, 603], rowH = [161, 160, 161];
const LC_W = 190, PG_W = 191;
const ptColor = "#4470d4", lineColor = "#5a82da", linkColor = "#3b3ba6";

const svg = d3.select("#chart").append("svg")
    .attr("width", W).attr("height", H);
svg.append("rect").attr("width", W).attr("height", H).attr("fill", "#fff");

// page header & paragraph
svg.append("text").attr("x", 7).attr("y", 20).attr("textLength", 19)
    .attr("lengthAdjust", "spacingAndGlyphs").style("font-size", "19px").text("20");
svg.append("text").attr("x", 478).attr("y", 20).attr("textLength", 80)
    .attr("lengthAdjust", "spacingAndGlyphs").style("font-size", "19px").text("Huang et al.");
svg.append("text").attr("x", 388).attr("y", 66).attr("textLength", 260)
    .attr("lengthAdjust", "spacingAndGlyphs").style("font-size", "18px").text("B.  LIGHTCURVE FIGURES");

const l1 = svg.append("text").attr("x", 24).attr("y", 100).attr("textLength", 1006)
    .attr("lengthAdjust", "spacingAndGlyphs").style("font-size", "20px");
l1.append("tspan").text("This appendix presents the folded light curves and the corresponding normalized ");
l1.append("tspan").style("font-style", "italic").text("χ");
l1.append("tspan").attr("dy", -8).style("font-size", "14px").text("2");
l1.append("tspan").attr("dy", 8).text(" distributions as a function of");

const l2 = svg.append("text").attr("x", 5).attr("y", 125).attr("textLength", 1025)
    .attr("lengthAdjust", "spacingAndGlyphs").style("font-size", "20px");
l2.append("tspan").text("frequency for asteroids with different rotation-period quality codes.  Figures ");
l2.append("tspan").attr("fill", linkColor).text("8");
l2.append("tspan").text(",Figures ");
l2.append("tspan").attr("fill", linkColor).text("9");
l2.append("tspan").text(" and Figures ");
l2.append("tspan").attr("fill", linkColor).text("10");
l2.append("tspan").text(" show the results");

svg.append("text").attr("x", 5).attr("y", 150).attr("textLength", 533)
    .attr("lengthAdjust", "spacingAndGlyphs").style("font-size", "20px")
    .text("for asteroids with U = 3, U = 3−, and U = 2+, respectively.");

// axes on four sides, ticks pointing inward, with minor ticks
function addAxes(g, x, y, o) {
    const [x0, x1] = x.range();
    const [yTop, yBot] = [d3.min(y.range()), d3.max(y.range())];
    const yVals = o.yTicks.map(d => d[0]);
    const sides = [
        {ax: d3.axisBottom(x), t: `translate(0,${yBot})`, maj: o.xTicks, min: o.xMinor, lab: true, fmt: o.xFmt},
        {ax: d3.axisTop(x), t: `translate(0,${yTop})`, maj: o.xTicks, min: o.xMinor},
        {ax: d3.axisLeft(y), t: `translate(${x0},0)`, maj: yVals, min: o.yMinor, lab: true, fmt: (d, i) => o.yTicks[i][1]},
        {ax: d3.axisRight(y), t: `translate(${x1},0)`, maj: yVals, min: o.yMinor}
    ];
    let leftG = null;
    sides.forEach((s, k) => {
        const gm = g.append("g").attr("transform", s.t)
            .call(s.ax.tickValues(s.maj).tickFormat(s.lab ? s.fmt : "")
                .tickSizeInner(-3.5).tickSizeOuter(0).tickPadding(k === 0 ? 2 : 3));
        gm.select(".domain").remove();
        gm.selectAll("line").attr("stroke-width", 0.7);
        gm.selectAll("text").style("font-size", "8.5px").attr("fill", "#000");
        if (k === 2) leftG = gm;
        const gn = g.append("g").attr("transform", s.t)
            .call(s.ax.tickValues(s.min).tickFormat("").tickSizeInner(-2).tickSizeOuter(0));
        gn.select(".domain").remove();
        gn.selectAll("line").attr("stroke-width", 0.6);
    });
    g.append("rect").attr("x", x0).attr("y", yTop).attr("width", x1 - x0).attr("height", yBot - yTop)
        .attr("fill", "none").attr("stroke", "#000").attr("stroke-width", 0.9);
    // left edge of the tick labels in page coordinates
    let minX = 0;
    leftG.selectAll("text").each(function () { minX = Math.min(minX, this.getBBox().x); });
    return x0 + minX - 6;
}

function minorRange(dom, step) {
    const lo = Math.ceil(Math.min(...dom) / step - 1e-9), hi = Math.floor(Math.max(...dom) / step + 1e-9);
    return d3.range(lo, hi + 1).map(i => +(i * step).toFixed(6));
}

function drawLC(p) {
    const g = svg.append("g");
    const x = d3.scaleLinear().domain([-0.05, 1.05]).range([p.x, p.x + LC_W]);
    const y = d3.scaleLinear().domain(p.yDom).range([p.y, p.y + p.h]);
    g.selectAll(".err").data(p.pts).enter().append("line")
        .attr("x1", d => x(d[0])).attr("x2", d => x(d[0]))
        .attr("y1", d => y(d[1] - (d[2] || p.err))).attr("y2", d => y(d[1] + (d[2] || p.err)))
        .attr("stroke", ptColor).attr("stroke-opacity", 0.45).attr("stroke-width", 1.2);
    g.selectAll(".pt").data(p.pts).enter().append("circle")
        .attr("cx", d => x(d[0])).attr("cy", d => y(d[1])).attr("r", 2.1)
        .attr("fill", ptColor);
    g.append("path").datum(d3.zip(fitPhase, p.fit))
        .attr("d", d3.line().x(d => x(d[0])).y(d => y(d[1])).curve(d3.curveCatmullRom))
        .attr("fill", "none").attr("stroke", "#5c5c5c").attr("stroke-width", 0.8);
    const labX = addAxes(g, x, y, {
        xTicks: phaseTicks, xMinor: minorRange([0, 1.05], 0.05), xFmt: d3.format(".1f"),
        yTicks: p.ticks, yMinor: minorRange(p.yDom, p.yMinor)
    });
    g.append("text").attr("x", p.x + LC_W / 2).attr("y", p.y + p.h + 20)
        .attr("text-anchor", "middle").style("font-size", "11px").text("Phase");
    const yl = g.append("text").attr("text-anchor", "middle")
        .attr("transform", `translate(${labX},${p.y + p.h / 2}) rotate(-90)`).style("font-size", "11px");
    yl.append("tspan").text("Reduced Magnitude (");
    yl.append("tspan").style("font-style", "italic").text("I");
    yl.append("tspan").text(")");
    g.append("text").attr("x", p.x + LC_W - 13).attr("y", p.y + 15).attr("text-anchor", "end")
        .style("font-size", "11px").text(p.period);
    g.append("text").attr("x", p.x + LC_W - 13).attr("y", p.y + p.h - 8.5).attr("text-anchor", "end")
        .style("font-size", "11px").text(p.name);
}

function drawPG(p) {
    const g = svg.append("g");
    const x = d3.scaleLinear().domain([-0.8, 51.2]).range([p.x, p.x + PG_W]);
    const y = d3.scaleLinear().domain(p.yDom).range([p.y + p.h, p.y]);
    g.append("path").datum(p.chi)
        .attr("d", d3.line().x(d => x(d[0])).y(d => y(d[1])))
        .attr("fill", "none").attr("stroke", lineColor).attr("stroke-width", 0.9).attr("stroke-opacity", 0.9);
    g.append("line").attr("x1", x(p.red)).attr("x2", x(p.red)).attr("y1", p.y).attr("y2", p.y + p.h)
        .attr("stroke", "#e8453c").attr("stroke-width", 1).attr("stroke-dasharray", "2.5,1.5").attr("stroke-opacity", 0.8);
    const labX = addAxes(g, x, y, {
        xTicks: freqTicks, xMinor: minorRange([0, 51], 2), xFmt: d3.format("d"),
        yTicks: p.ticks, yMinor: minorRange(p.yDom, p.yMinor)
    });
    g.append("text").attr("x", p.x + PG_W / 2).attr("y", p.y + p.h + 20)
        .attr("text-anchor", "middle").style("font-size", "11px").text("Frequency (rev/day)");
    const yl = g.append("text").attr("text-anchor", "middle")
        .attr("transform", `translate(${labX},${p.y + p.h / 2}) rotate(-90)`).style("font-size", "11px");
    yl.append("tspan").text("Normalized ");
    yl.append("tspan").style("font-style", "italic").text("χ");
    yl.append("tspan").attr("dy", -4).style("font-size", "7.5px").text("2");
    g.append("text").attr("x", p.x + PG_W - 14).attr("y", p.y + p.h - 8.5).attr("text-anchor", "end")
        .style("font-size", "11px").text(p.name);
}

// light curve panels
const lcPanels = [
    {x: 89, y: rowTop[0], h: rowH[0], yDom: [11.89, 13.52], ticks: haradaYTicks, yMinor: 0.05, pts: haradaPts, fit: haradaFit, err: 0.006, period: "P=10.9662h", name: "(6399) Harada"},
    {x: 554, y: rowTop[0], h: rowH[0], yDom: [12.524, 13.214], ticks: kukucinYTicks, yMinor: 0.02, pts: kukucinPts, fit: kukucinFit, err: 0.005, period: "P=8.5928h", name: "(23444) Kukucin"},
    {x: 89, y: rowTop[1], h: rowH[1], yDom: [13.082, 14.245], ticks: ru81YTicks, yMinor: 0.05, pts: ru81Pts, fit: ru81Fit, err: 0.015, period: "P=4.1786h", name: "(46339) 2001 RU81"},
    {x: 554, y: rowTop[1], h: rowH[1], yDom: [14.221, 15.504], ticks: rz23YTicks, yMinor: 0.05, pts: rz23Pts, fit: rz23Fit, err: 0.02, period: "P=5.4627h", name: "(74179) 1998 RZ23"},
    {x: 89, y: rowTop[2], h: rowH[2], yDom: [14.615, 16.321], ticks: sy227YTicks, yMinor: 0.05, pts: sy227Pts, fit: sy227Fit, err: 0.02, period: "P=9.1709h", name: "(105939) 2000 SY227"},
    {x: 554, y: rowTop[2], h: rowH[2], yDom: [14.835, 15.663], ticks: fz58YTicks, yMinor: 0.05, pts: fz58Pts, fit: fz58Fit, err: 0.015, period: "P=6.9973h", name: "(107806) 2001 FZ58"}
];
// periodogram panels (red line at 24/P rev/day)
const pgPanels = [
    {x: 319, y: rowTop[0], h: rowH[0], yDom: [67, 1787], ticks: haradaChiTicks, yMinor: 75, chi: haradaChi2, red: 2.19, name: "(6399) Harada"},
    {x: 785, y: rowTop[0], h: rowH[0], yDom: [19.5, 183.4], ticks: kukucinChiTicks, yMinor: 7.5, chi: kukucinChi2, red: 2.79, name: "(23444) Kukucin"},
    {x: 319, y: rowTop[1], h: rowH[1], yDom: [9.9, 119.7], ticks: ru81ChiTicks, yMinor: 5, chi: ru81Chi2, red: 5.74, name: "(46339) 2001 RU81"},
    {x: 785, y: rowTop[1], h: rowH[1], yDom: [0.94, 23.92], ticks: rz23ChiTicks, yMinor: 1, chi: rz23Chi2, red: 4.39, name: "(74179) 1998 RZ23"},
    {x: 319, y: rowTop[2], h: rowH[2], yDom: [5.0, 59.76], ticks: sy227ChiTicks, yMinor: 2, chi: sy227Chi2, red: 2.62, name: "(105939) 2000 SY227"},
    {x: 785, y: rowTop[2], h: rowH[2], yDom: [1.2, 97.8], ticks: fz58ChiTicks, yMinor: 5, chi: fz58Chi2, red: 3.43, name: "(107806) 2001 FZ58"}
];

lcPanels.forEach(drawLC);
pgPanels.forEach(drawPG);

// faint image border left of the first periodogram column
rowTop.forEach((t, i) => {
    svg.append("line").attr("x1", 281.5).attr("x2", 281.5).attr("y1", t + 2).attr("y2", t + rowH[i] - 9)
        .attr("stroke", "#c4c4c4").attr("stroke-width", 1);
});
</script>
</body>
</html>
